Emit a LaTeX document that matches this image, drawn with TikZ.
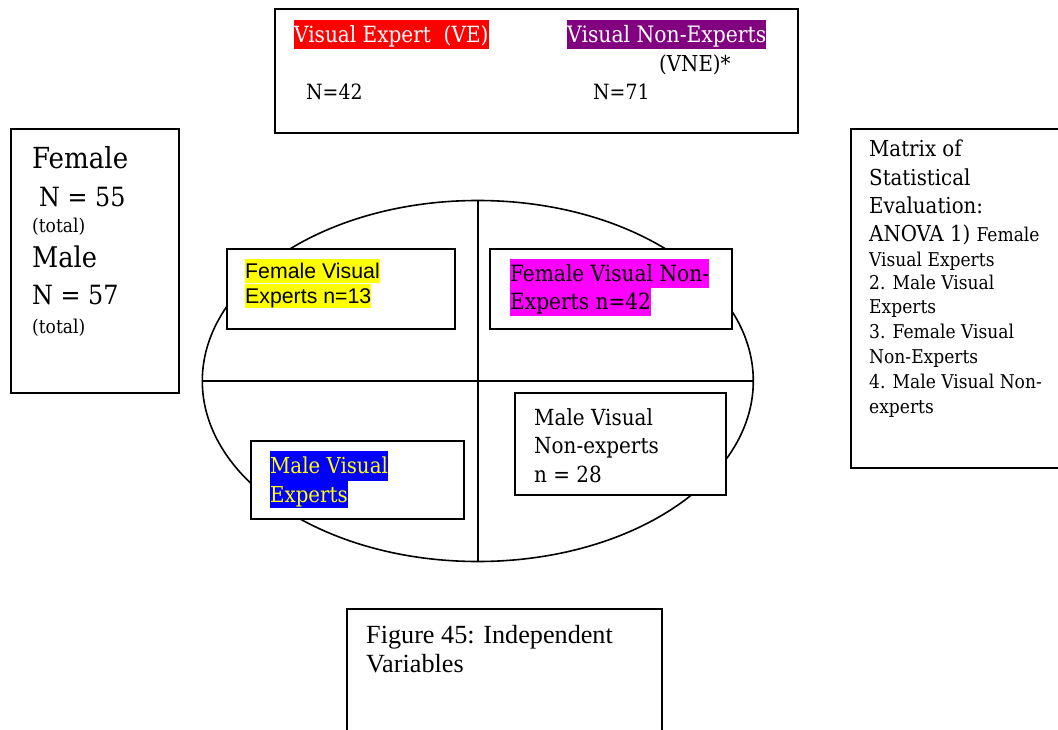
\documentclass[tikz,border=0pt]{standalone}
\usepackage{fontspec}
\usetikzlibrary{shapes.geometric}
\newfontfamily\camfont{DejaVu Serif Condensed}
\newfontfamily\arialfont{Liberation Sans}
\newfontfamily\romanfont{Liberation Serif}
\definecolor{hlred}{RGB}{255,0,0}
\definecolor{hlpurple}{RGB}{128,0,128}
\definecolor{hlyellow}{RGB}{255,255,0}
\definecolor{hlmagenta}{RGB}{255,0,255}
\definecolor{hlblue}{RGB}{0,0,255}
% highlighted line: background, text colour, height above / below baseline, text
\newcommand\hilite[5]{{\setlength\fboxsep{0pt}\colorbox{#1}{\color{#2}\rule[-#4pt]{0pt}{\dimexpr #3pt+#4pt\relax}#5}}}
\begin{document}
\begin{tikzpicture}[x=1pt,y=-1pt,
  box/.style={draw, line width=1.8pt, fill=white, inner sep=0pt, anchor=north west},
  txt/.style={anchor=base west, inner sep=0pt},
  cam/.style={font=\camfont\fontsize{#1}{#1}\selectfont},
  ari/.style={font=\arialfont\fontsize{#1}{#1}\selectfont},
  rom/.style={font=\romanfont\fontsize{#1}{#1}\selectfont}]
\useasboundingbox (0,0) rectangle (1058,730);

% group sizes
\node[box, minimum width=523, minimum height=124] (groups) at (274,8) {};
\node[txt, cam=22.3] (ve) at (294,42.7) {\hilite{hlred}{white}{23}{6}{Visual Expert\ \ (VE)}};
\node[txt, cam=22.6] (vne) at (567,42.7) {\hilite{hlpurple}{white}{23}{6}{Visual Non-Experts}};
\node[txt, cam=22] (vnetag) at (659,71.5) {(VNE)*};
\node[txt, cam=21] (nve) at (306,100) {N=42};
\node[txt, cam=21] (nvne) at (593,100) {N=71};

% gender totals
\node[box, minimum width=168, minimum height=264] (gender) at (10,128) {};
\node[txt, cam=29] (fem) at (32,169) {Female};
\node[txt, cam=26.5] (fn) at (39,207) {N = 55};
\node[txt, cam=19] (ft) at (32,233) {(total)};
\node[txt, cam=28.5] (mal) at (32,268) {Male};
\node[txt, cam=26.5] (mn) at (32,305) {N = 57};
\node[txt, cam=19] (mt) at (32,333) {(total)};

% evaluation matrix
\node[box, minimum width=215, minimum height=339] (matrix) at (850,128) {};
\node[txt, cam=22] (m1) at (869,157) {Matrix of};
\node[txt, cam=22] (m2) at (869,186) {Statistical};
\node[txt, cam=22] (m3) at (869,214) {Evaluation:};
\node[txt, cam=22] (m4) at (869,242) {ANOVA 1) {\fontsize{19}{19}\selectfont Female}};
\node[txt, cam=19] (m5) at (869,266) {Visual Experts};
\node[txt, cam=19] (m6) at (869,290) {2. Male Visual};
\node[txt, cam=19] (m7) at (869,313) {Experts};
\node[txt, cam=19] (m8) at (869,338) {3. Female Visual};
\node[txt, cam=19] (m9) at (869,363) {Non-Experts};
\node[txt, cam=19] (m10) at (869,388) {4. Male Visual Non-};
\node[txt, cam=19] (m11) at (869,413) {experts};

% quadrant ellipse
\node[draw, ellipse, line width=1.6pt, inner sep=0pt, minimum width=551, minimum height=361] (ell) at (477.8,381) {};
\draw[line width=1.6pt] (ell.north) -- (ell.south);
\draw[line width=1.6pt] (ell.west) -- (ell.east);

% quadrant boxes
\node[box, minimum width=228, minimum height=80] (fvebox) at (226,248) {};
\node[txt, ari=21.3] (fve1) at (245,279) {\hilite{hlyellow}{black}{20}{4.5}{Female Visual}};
\node[txt, ari=21.3] (fve2) at (245,303.5) {\hilite{hlyellow}{black}{20}{4.5}{Experts n=13}};

\node[box, minimum width=242, minimum height=80] (fvnebox) at (489,248) {};
\node[txt, cam=22.4] (fvne1) at (510,281) {\hilite{hlmagenta}{black}{22}{7}{Female Visual Non-}};
\node[txt, cam=22.4] (fvne2) at (510,309) {\hilite{hlmagenta}{black}{21}{7}{Experts n=42}};

\node[box, minimum width=213, minimum height=78] (mvebox) at (250,440) {};
\node[txt, cam=22] (mve1) at (270,473) {\hilite{hlblue}{hlyellow}{22}{8}{Male Visual}};
\node[txt, cam=22] (mve2) at (270,502) {\hilite{hlblue}{hlyellow}{21}{6}{Experts}};

\node[box, minimum width=211, minimum height=102] (mvnebox) at (514,392) {};
\node[txt, cam=22.2] (mvne1) at (534,425) {Male Visual};
\node[txt, cam=22.2] (mvne2) at (534,453) {Non-experts};
\node[txt, cam=22.2] (mvne3) at (534,482) {n = 28};

% caption
\node[box, minimum width=315, minimum height=130] (caption) at (346,608) {};
\node[txt, rom=26.2] (cap1) at (366,643) {Figure 45: Independent};
\node[txt, rom=26.2] (cap2) at (366,672) {Variables};
\end{tikzpicture}
\end{document}
